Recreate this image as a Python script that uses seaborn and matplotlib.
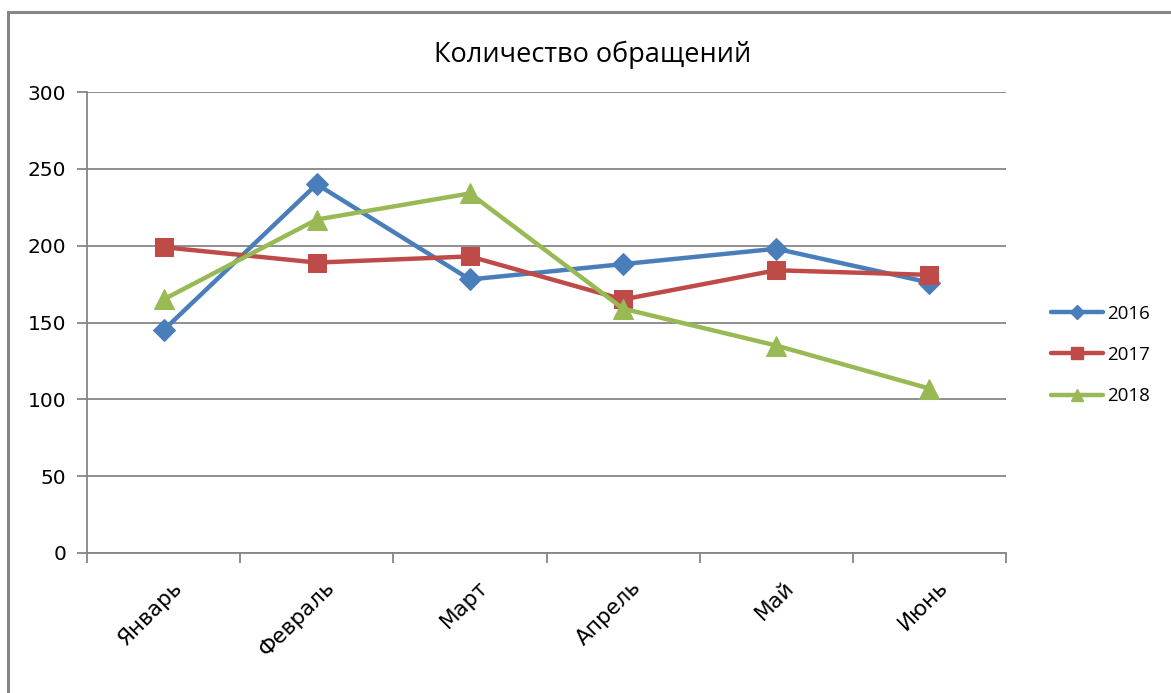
import matplotlib
matplotlib.use("Agg")
import matplotlib.pyplot as plt
from matplotlib.lines import Line2D
from matplotlib.patches import Rectangle
import pandas as pd
import seaborn as sns

# --- data ---
months = ["Январь", "Февраль", "Март", "Апрель", "Май", "Июнь"]
years = ["2016", "2017", "2018"]
v2016 = [145, 240, 178, 188, 198, 176]
v2017 = [199, 189, 193, 165, 184, 181]
v2018 = [165, 217, 234, 159, 135, 107]
title = "Количество обращений"

colors = {"2016": "#4A7EBB", "2017": "#BE4B48", "2018": "#98B954"}
markers = {"2016": "D", "2017": "s", "2018": "^"}
msizes = {"2016": 11, "2017": 13, "2018": 14}
leg_msizes = {"2016": 7, "2017": 9, "2018": 8}

df = pd.DataFrame({
    "month": list(range(len(months))) * 3,
    "year": [y for y in years for _ in months],
    "value": v2016 + v2017 + v2018,
})

sns.set_theme(style="white")
plt.rcParams["font.family"] = ["DejaVu Sans"]
plt.rcParams["text.color"] = "black"
plt.rcParams["xtick.color"] = "black"
plt.rcParams["ytick.color"] = "black"

fig = plt.figure(figsize=(11.71, 6.93), dpi=100)
W, H = 1171, 693
ax = fig.add_axes([87 / W, 1 - 553 / H, (1006 - 87) / W, (553 - 92) / H])

# outer chart border (Excel chart area)
fig.patches.append(Rectangle((8 / W, -0.1), 1.2, 1 - 12 / H + 0.1,
                             transform=fig.transFigure, fill=False,
                             edgecolor="#868686", linewidth=2.2, zorder=0))

sns.lineplot(data=df, x="month", y="value", hue="year", palette=colors,
             linewidth=3.2, legend=False, ax=ax, zorder=3)
for line, yr in zip(ax.get_lines(), years):
    line.set_marker(markers[yr])
    line.set_markersize(msizes[yr])
    line.set_markerfacecolor(colors[yr])
    line.set_markeredgecolor(colors[yr])
    line.set_solid_joinstyle("round")

ax.set_xlim(-0.5, len(months) - 0.5)
ax.set_ylim(0, 300)
ax.set_yticks(range(0, 301, 50))
ax.yaxis.grid(True, color="#868686", linewidth=1.3)
ax.set_axisbelow(True)
for s in ["top", "right"]:
    ax.spines[s].set_visible(False)
for s in ["left", "bottom"]:
    ax.spines[s].set_color("#868686")
    ax.spines[s].set_linewidth(1.3)

ax.set_xticks([i - 0.5 for i in range(len(months) + 1)])
ax.set_xticklabels([])
ax.tick_params(axis="x", direction="out", length=7, width=1.3, color="#868686", bottom=True)
ax.tick_params(axis="y", direction="out", length=7, width=1.3, color="#868686",
               labelcolor="black", left=True, labelsize=14.5, pad=8)
ax.set_xlabel("")
ax.set_ylabel("")

for i, m in enumerate(months):
    ax.annotate(m, xy=(i, 0), xycoords=("data", "axes fraction"),
                xytext=(8, -24), textcoords="offset pixels",
                rotation=45, ha="right", va="top", rotation_mode="anchor",
                fontsize=15.5, color="black")

fig.text(593 / W, 1 - 55 / H, title, ha="center", va="center",
         fontsize=19.5, color="black", family=["Open Sans", "DejaVu Sans"])

handles = [Line2D([], [], color=colors[y], marker=markers[y], markersize=leg_msizes[y],
                  linewidth=3.2, label=y) for y in years]
leg = fig.legend(handles=handles, loc="center left",
                 bbox_to_anchor=(1034 / W, 1 - 355 / H), frameon=False,
                 handlelength=2.8, labelspacing=1.25, handletextpad=0.2,
                 prop={"family": ["Open Sans", "DejaVu Sans"], "size": 13.5})

fig.savefig("out.png", dpi=100)
